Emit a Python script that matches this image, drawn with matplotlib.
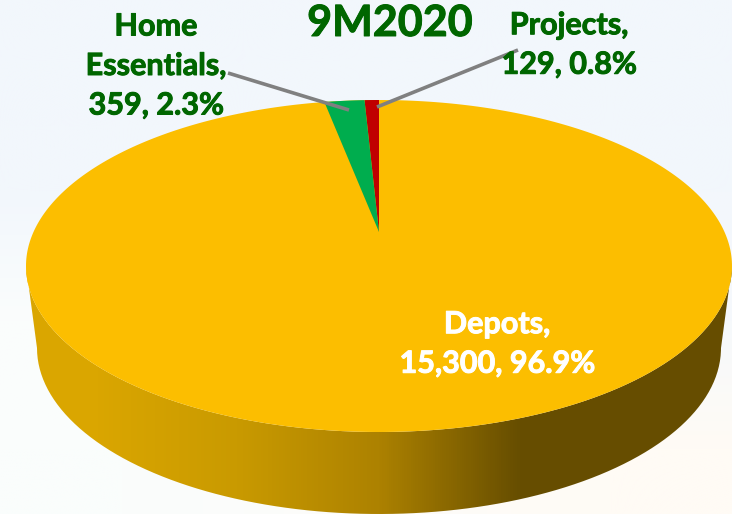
import numpy as np
import matplotlib
matplotlib.use("Agg")
import matplotlib.pyplot as plt
import matplotlib.patheffects as pe
from matplotlib.colors import LinearSegmentedColormap, to_rgb
from matplotlib.patches import PathPatch
from matplotlib.path import Path

plt.rcParams['font.family'] = ['Lato', 'DejaVu Sans']

# data, going anticlockwise from 12 o'clock
names = ["Projects", "Home\nEssentials", "Depots"]
values = [129, 359, 15300]
value_labels = ["129", "359", "15,300"]
pct_labels = ["0.8%", "2.3%", "96.9%"]
colors = ["#C00000", "#00AD4E", "#FCBE00"]

fig = plt.figure(figsize=(7.32, 5.14), dpi=100)
ax = fig.add_axes([0, 0, 1, 1])
ax.set_xlim(0, 732)
ax.set_ylim(514, 0)
ax.axis("off")

# washed out slide background
bg = [["#F2F7FC", "#F2F7FC", "#F2F7FC"],
      ["#F2F7FC", "#F3F7FC", "#F3F7FC"],
      ["#FBFDFD", "#F6F9FB", "#F6F9FC"],
      ["#FAFDFC", "#FDFCFA", "#FFFBF5"]]
ax.imshow([[to_rgb(c) for c in row] for row in bg], extent=[0, 732, 514, 0],
          aspect="auto", interpolation="bilinear", zorder=0)


def rim(theta, cx=379, cy=266, rx=353, ry=166):
    return cx + rx * np.sin(theta), cy - ry * np.cos(theta)


# side of the pie, shaded left to right
t = np.linspace(np.pi / 2, 3 * np.pi / 2, 200)
up_x, up_y = rim(t)
low_x, low_y = rim(t, cy=348, rx=342)
side = np.column_stack([np.r_[up_x, low_x[::-1]], np.r_[up_y, low_y[::-1]]])
shade = LinearSegmentedColormap.from_list(
    "shade", ["#DAA600", "#C99A00", "#AD8200", "#674E00", "#664D00"])
grad = ax.imshow(np.array([[0, 0.25, 0.5, 0.75, 1.0]]), extent=[26, 732, 514, 100],
                 cmap=shade, aspect="auto", interpolation="bilinear", zorder=1)
grad.set_clip_path(PathPatch(Path(side), transform=ax.transData))

# top face
t = np.linspace(0, 2 * np.pi, 400)
ax.fill(*rim(t), color=colors[2], lw=0, zorder=2)

# small slices meet at the apex, which sits above the ellipse centre
apex = (379, 232)
fracs = np.array(values) / sum(values)
start = 0.0
for frac, col in zip(fracs[:2], colors[:2]):
    a = np.linspace(start, start + frac, 20) * 2 * np.pi * 0.8
    x, y = rim(-a)
    ax.fill(np.r_[apex[0], x], np.r_[apex[1], y], color=col, lw=0, zorder=3)
    start += frac

# leader lines
ax.plot([228, 349], [73, 110], color="#808080", lw=2.6, zorder=4, solid_capstyle="butt")
ax.plot([518, 377], [50, 107], color="#808080", lw=2.6, zorder=4, solid_capstyle="butt")

green = "#006600"
# Lato bold is lighter than the original face, thicken it a little
fat_green = [pe.withStroke(linewidth=0.7, foreground=green)]
fat_white = [pe.withStroke(linewidth=0.7, foreground="white")]
ax.text(390, 23, "9M2020", color=green, fontsize=31, fontweight="bold",
        ha="center", va="center", zorder=5, path_effects=fat_green)
ax.text(156, 66, f"{names[1]},\n{value_labels[1]}, {pct_labels[1]}", color=green, fontsize=22,
        fontweight="bold", ha="center", va="center", linespacing=1.5, zorder=5,
        path_effects=fat_green)
ax.text(569, 45, f"{names[0]},\n{value_labels[0]}, {pct_labels[0]}", color=green, fontsize=22,
        fontweight="bold", ha="center", va="center", linespacing=1.5, zorder=5,
        path_effects=fat_green)
ax.text(497, 344, f"{names[2]},\n{value_labels[2]}, {pct_labels[2]}", color="white", fontsize=22,
        fontweight="bold", ha="center", va="center", linespacing=1.5, zorder=5,
        path_effects=fat_white)

fig.savefig("out.png", dpi=100)
